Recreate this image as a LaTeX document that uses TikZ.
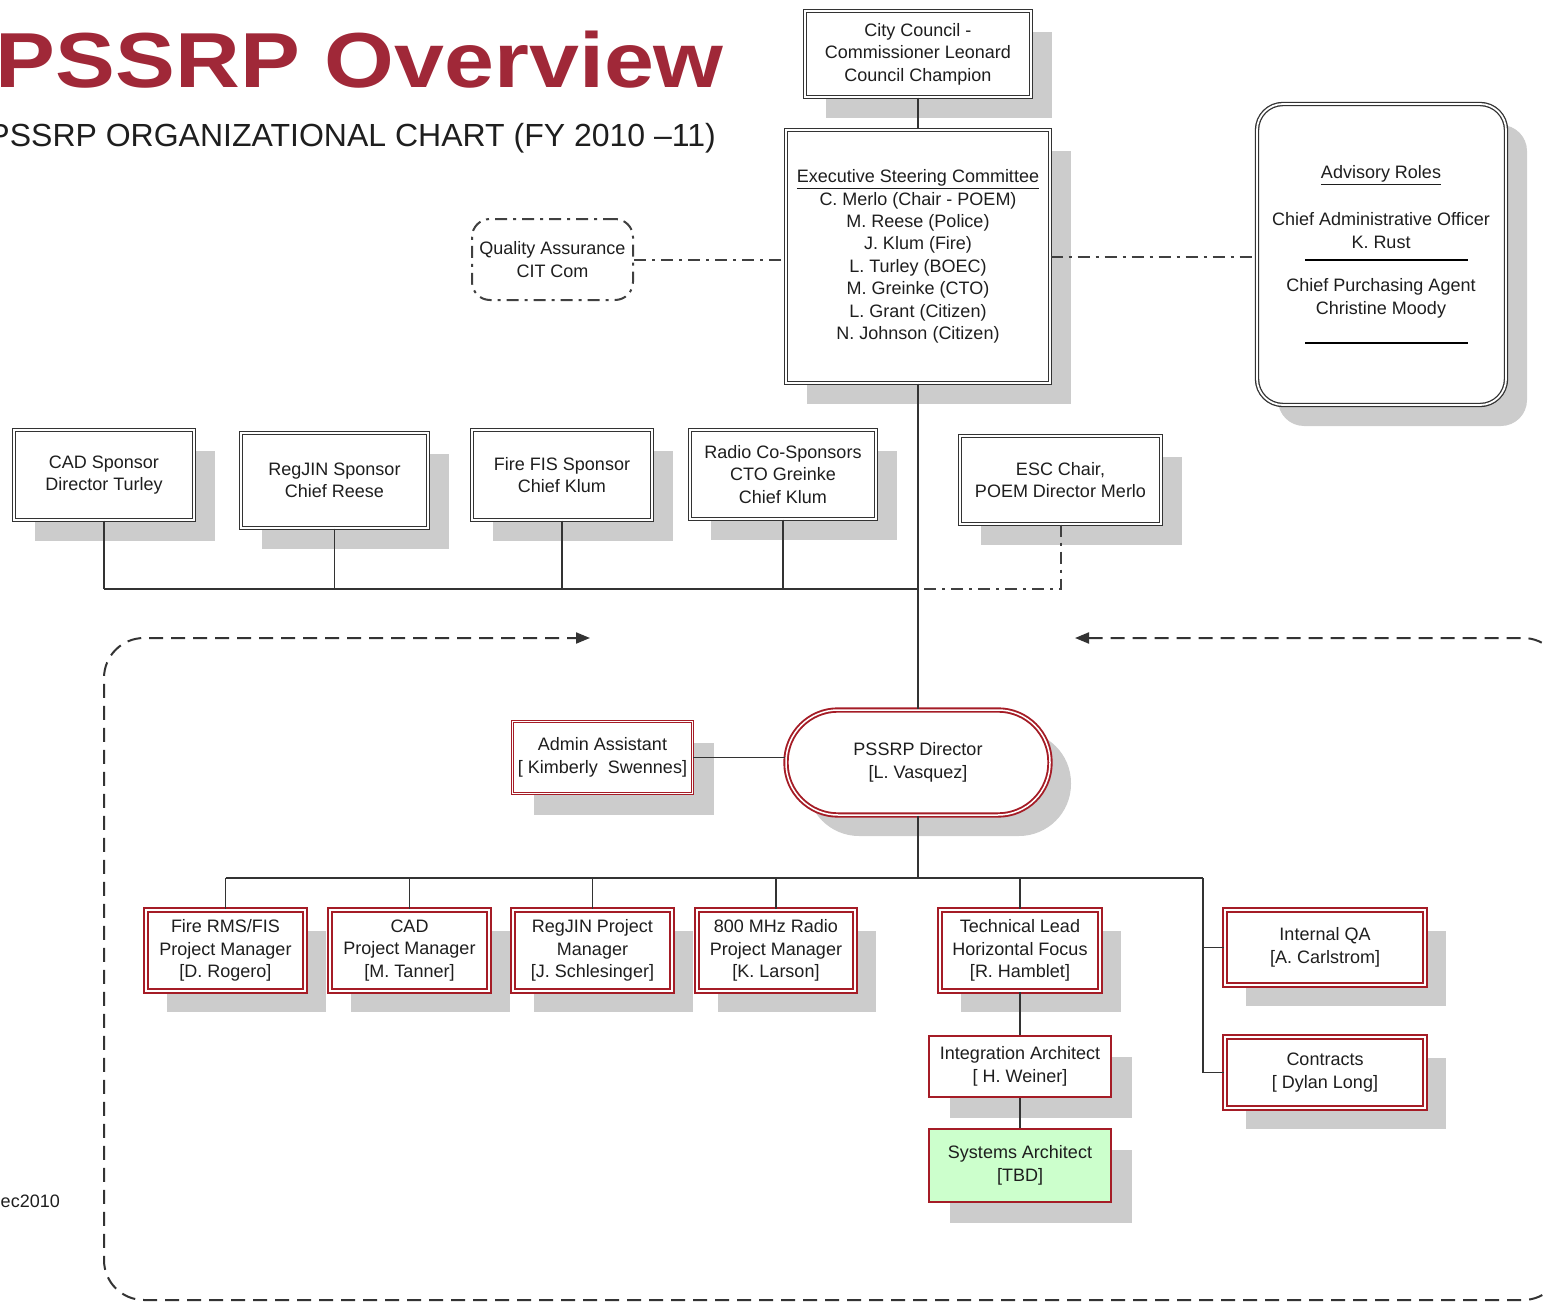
\documentclass[tikz,border=0pt]{standalone}
\usepackage{fontspec}
\setmainfont{Liberation Sans}
\usetikzlibrary{shadows,arrows.meta}
\definecolor{titlered}{RGB}{160,40,56}
\definecolor{boxred}{RGB}{165,28,38}
\definecolor{shadowgray}{RGB}{204,204,204}
\definecolor{txt}{RGB}{30,30,30}
\definecolor{sysgreen}{RGB}{204,255,204}
\newcommand\bxfont{\fontsize{18}{22.4}\selectfont}
\tikzset{
  base/.style={align=center, inner sep=0pt, font=\bxfont, text=txt},
  shad/.style={drop shadow={shadow xshift=21pt, shadow yshift=-21pt, opacity=1, fill=shadowgray}},
  blkbox/.style={base, shad, fill=white, draw=black!80, line width=1.3pt, double=white, double distance=1.8pt},
  redbox/.style={base, shad, fill=white, draw=boxred, line width=1.9pt, double=white, double distance=1.5pt},
  redthin/.style={base, shad, fill=white, draw=boxred, line width=1.1pt, double=white, double distance=1.4pt},
  redsingle/.style={base, shad, fill=white, draw=boxred, line width=2.2pt},
  conn/.style={draw=black!80, line width=1.8pt},
  dashdot/.style={draw=black!75, line width=2pt, dash pattern=on 12pt off 6pt on 3pt off 6pt},
  bigdash/.style={draw=black!80, line width=2pt, dash pattern=on 14pt off 8pt},
  rule/.style={draw=black, line width=1.4pt},
}
\begin{document}
\begin{tikzpicture}[x=1pt,y=-1pt]
\useasboundingbox (0,0) rectangle (1545,1303);

% titles
\node[anchor=base east, inner sep=0pt, text=titlered, xscale=1.15,
      font=\fontsize{78}{90}\selectfont\bfseries] (title) at (724,88) {PSSRP Overview};
\node[anchor=base east, inner sep=0pt, text=txt,
      font=\fontsize{32}{38}\selectfont] (subtitle) at (716,147) {PSSRP ORGANIZATIONAL CHART (FY 2010 --11)};
\node[anchor=base east, inner sep=0pt, text=txt, font=\bxfont] (date) at (60,1207) {Dec2010};

% big dashed frame
\draw[bigdash, rounded corners=40pt, {Triangle[length=14pt,width=11pt]}-{Triangle[length=14pt,width=11pt]}]
  (1075,638) -- (1563,638) -- (1563,1300) -- (104,1300) -- (104,638) -- (590,638);

% top nodes
\node[blkbox, minimum width=226pt, minimum height=86pt] (council) at (918,54)
  {City Council -\\Commissioner Leonard\\Council Champion};
\node[blkbox, minimum width=264pt, minimum height=253pt] (exec) at (918,256.5)
  {\underline{Executive Steering Committee}\\C. Merlo (Chair - POEM)\\M. Reese (Police)\\J. Klum (Fire)\\L. Turley (BOEC)\\M. Greinke (CTO)\\L. Grant (Citizen)\\N. Johnson (Citizen)};
\node[base, draw=black!75, line width=2pt, dash pattern=on 12pt off 6pt on 3pt off 6pt,
      rounded corners=18pt, minimum width=161pt, minimum height=81pt] (qa) at (552.5,259.5)
  {Quality Assurance\\CIT Com};
\node[blkbox, rounded corners=26pt, minimum width=249pt, minimum height=301pt] (adv) at (1381.5,254.5) {};
\node[base] (advt) at (1381,175) {\underline{Advisory Roles}};
\node[base] (cao) at (1381,230.5) {Chief Administrative Officer\\K. Rust};
\node[base] (cpa) at (1381,298.5) {Chief Purchasing Agent\\Christine Moody};
\coordinate (r1a) at (1305,260); \coordinate (r1b) at (1468,260);
\coordinate (r2a) at (1305,343); \coordinate (r2b) at (1468,343);
\draw[rule] (r1a) -- (r1b);
\draw[rule] (r2a) -- (r2b);

% sponsors
\node[blkbox, minimum width=180pt, minimum height=90pt] (cad) at (104,475) {CAD Sponsor\\Director Turley};
\node[blkbox, minimum width=187pt, minimum height=95pt] (regjin) at (334.5,480.5) {RegJIN Sponsor\\Chief Reese};
\node[blkbox, minimum width=180pt, minimum height=90pt] (fire) at (562,475) {Fire FIS Sponsor\\Chief Klum};
\node[blkbox, minimum width=186pt, minimum height=89pt] (radio) at (783,474.5) {Radio Co-Sponsors\\CTO Greinke\\Chief Klum};
\node[blkbox, minimum width=201pt, minimum height=88pt] (esc) at (1060.5,480) {ESC Chair,\\POEM Director Merlo};

% director level
\node[redbox, rounded corners=52pt, minimum width=264pt, minimum height=105pt] (dir) at (918,762.5) {PSSRP Director\\{[}L. Vasquez]};
\node[redthin, minimum width=180pt, minimum height=72pt] (admin) at (602.5,757.5) {Admin Assistant\\{[} Kimberly~ Swennes]};

% project managers
\node[redbox, minimum width=159pt, minimum height=81pt] (pm1) at (225.5,950.5) {Fire RMS/FIS\\Project Manager\\{[}D. Rogero]};
\node[redbox, minimum width=159pt, minimum height=81pt] (pm2) at (409.5,950.5) {CAD\\Project Manager\\{[}M. Tanner]};
\node[redbox, minimum width=159pt, minimum height=81pt] (pm3) at (592.5,950.5) {RegJIN Project\\Manager\\{[}J. Schlesinger]};
\node[redbox, minimum width=158pt, minimum height=81pt] (pm4) at (776,950.5) {800 MHz Radio\\Project Manager\\{[}K. Larson]};
\node[redbox, minimum width=160pt, minimum height=81pt] (tech) at (1020,950.5) {Technical Lead\\Horizontal Focus\\{[}R. Hamblet]};
\node[redsingle, minimum width=182pt, minimum height=61pt] (integ) at (1020,1066.5) {Integration Architect\\{[} H. Weiner]};
\node[redsingle, fill=sysgreen, minimum width=182pt, minimum height=73pt] (sys) at (1020,1165.5) {Systems Architect\\{[}TBD]};
\node[redbox, minimum width=200pt, minimum height=75pt] (iqa) at (1325,947.5) {Internal QA\\{[}A. Carlstrom]};
\node[redbox, minimum width=200pt, minimum height=71pt] (contr) at (1325,1072.5) {Contracts\\{[} Dylan Long]};

% connectors
\coordinate (J) at (918,589);
\coordinate (B) at (918,878);
\coordinate (BR) at (1203,878);
\coordinate (BQ) at (1203,947.5);
\coordinate (BC) at (1203,1072.5);

\draw[conn] (council) -- (exec);
\draw[dashdot] (qa.east) -- (qa.east -| exec.west);
\draw[dashdot] (exec.east) -- (exec.east -| adv.west);
\draw[conn] (cad.south) -- (cad.south |- J);
\draw[conn] (regjin.south) -- (regjin.south |- J);
\draw[conn] (fire.south) -- (fire.south |- J);
\draw[conn] (radio.south) -- (radio.south |- J);
\draw[conn] (cad.south |- J) -- (J);
\draw[dashdot] (esc.south) |- (J);
\draw[conn] (exec.south) -- (dir.north);
\draw[conn] (admin.east) -- (admin.east -| dir.west);
\draw[conn] (dir.south) -- (B);
\draw[conn] (pm1.north |- B) -- (BR);
\draw[conn] (pm1.north) -- (pm1.north |- B);
\draw[conn] (pm2.north) -- (pm2.north |- B);
\draw[conn] (pm3.north) -- (pm3.north |- B);
\draw[conn] (pm4.north) -- (pm4.north |- B);
\draw[conn] (tech.north) -- (tech.north |- B);
\draw[conn] (BR) -- (BC) -- (contr.west);
\draw[conn] (BQ) -- (iqa.west);
\draw[conn] (tech) -- (integ);
\draw[conn] (integ) -- (sys);
\end{tikzpicture}
\end{document}
